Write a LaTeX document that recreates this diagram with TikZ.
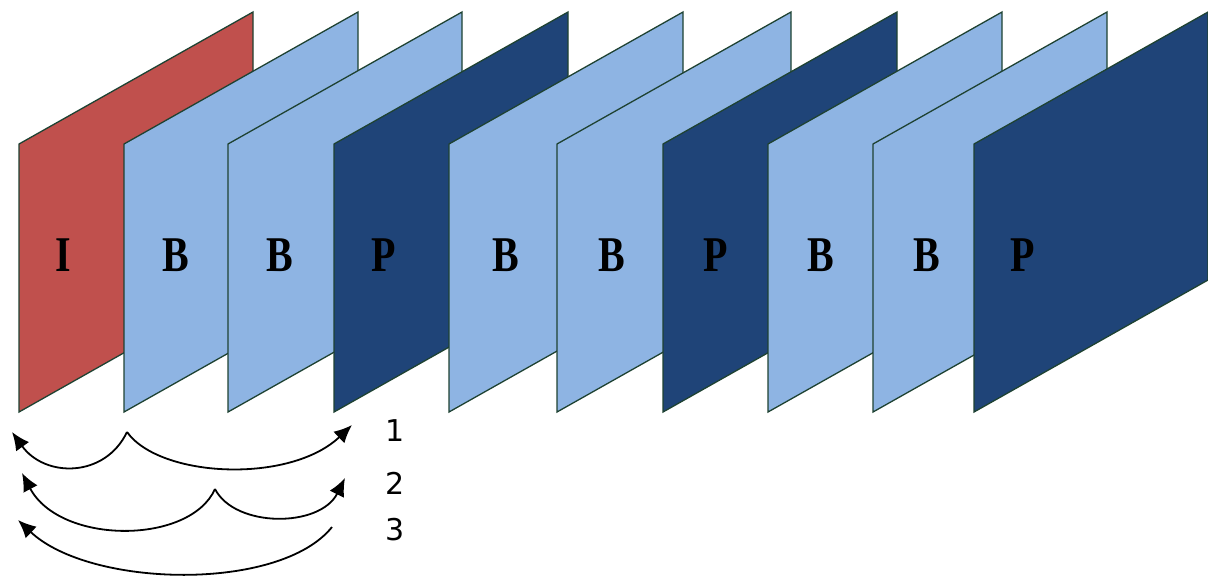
\documentclass[tikz,border=0pt]{standalone}
\usepackage{fontspec}
\usepackage{tikz}
\usetikzlibrary{arrows.meta}
\newfontfamily\framefont{Liberation Serif}
\newfontfamily\numfont{DejaVu Sans}

\definecolor{iframe}{HTML}{C0504D}
\definecolor{bframe}{HTML}{8EB4E3}
\definecolor{pframe}{HTML}{1F4478}
\definecolor{edgegreen}{HTML}{1E4232}

\tikzset{
  frame/.style={draw=edgegreen, line width=0.65pt},
  letter/.style={font=\framefont\bfseries\fontsize{25}{25}\selectfont, xscale=0.8},
  number/.style={font=\numfont\fontsize{15}{15}\selectfont},
  hop/.style={black, line width=0.9pt, -{Latex[length=9pt,width=8pt]}},
}

\begin{document}
\begin{tikzpicture}[x=0.5pt, y=-0.5pt]
\useasboundingbox (0,0) rectangle (1208,579);

% the ten frames, back to front
\draw[frame, fill=iframe] (19,412)--++(0,-268)--++(234,-132)--++(0,268)--cycle;
\draw[frame, fill=bframe] (124,412)--++(0,-268)--++(234,-132)--++(0,268)--cycle;
\draw[frame, fill=bframe] (228,412)--++(0,-268)--++(234,-132)--++(0,268)--cycle;
\draw[frame, fill=pframe] (334,412)--++(0,-268)--++(234,-132)--++(0,268)--cycle;
\draw[frame, fill=bframe] (449,412)--++(0,-268)--++(234,-132)--++(0,268)--cycle;
\draw[frame, fill=bframe] (557,412)--++(0,-268)--++(234,-132)--++(0,268)--cycle;
\draw[frame, fill=pframe] (663,412)--++(0,-268)--++(234,-132)--++(0,268)--cycle;
\draw[frame, fill=bframe] (768,412)--++(0,-268)--++(234,-132)--++(0,268)--cycle;
\draw[frame, fill=bframe] (873,412)--++(0,-268)--++(234,-132)--++(0,268)--cycle;
\draw[frame, fill=pframe] (974,412)--++(0,-268)--++(234,-132)--++(0,268)--cycle;

\node[letter] (fI)  at (63,255)   {I};
\node[letter] (fB1) at (176,255)  {B};
\node[letter] (fB2) at (280,255)  {B};
\node[letter] (fP1) at (384,255)  {P};
\node[letter] (fB3) at (506,255)  {B};
\node[letter] (fB4) at (612,255)  {B};
\node[letter] (fP2) at (716,255)  {P};
\node[letter] (fB5) at (821,255)  {B};
\node[letter] (fB6) at (927,255)  {B};
\node[letter] (fP3) at (1023,255) {P};

% reference hops
\coordinate (s1) at (127,432);
\coordinate (l1) at (12,432);
\coordinate (r1) at (352,425);
\coordinate (s2) at (215,489);
\coordinate (l2) at (22,473);
\coordinate (r2) at (345,478);
\coordinate (s3) at (332,527);
\coordinate (l3) at (18,520);

\draw[hop] (s1) .. controls (105,478) and (45,478) .. (l1);
\draw[hop] (s1) .. controls (160,478) and (290,484) .. (r1);
\draw[hop] (s2) .. controls (190,545) and (60,545) .. (l2);
\draw[hop] (s2) .. controls (235,528) and (320,528) .. (r2);
\draw[hop] (s3) .. controls (280,592) and (90,588) .. (l3);

\node[number] (n1) at (395,431) {1};
\node[number] (n2) at (395,483) {2};
\node[number] (n3) at (395,530) {3};

\end{tikzpicture}
\end{document}
